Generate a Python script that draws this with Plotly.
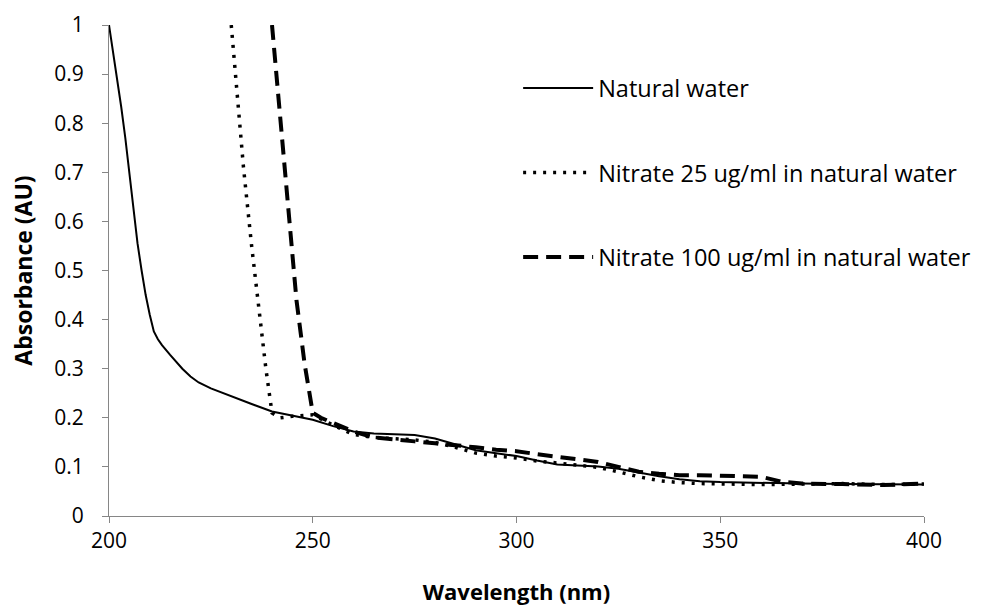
import plotly.graph_objects as go

# Natural water
wl_nat = [200, 201, 202, 203, 204, 205, 206, 207, 208, 209, 210, 210.5, 211, 212, 213, 215, 218,
          220, 222, 225, 228, 230, 235, 240, 245, 250, 255, 260, 265, 270, 275, 280, 285, 290,
          295, 300, 305, 310, 315, 320, 325, 330, 335, 340, 345, 350, 360, 370, 380, 390, 400]
abs_nat = [1.0, 0.945, 0.89, 0.833, 0.77, 0.70, 0.625, 0.555, 0.50, 0.45, 0.41, 0.392, 0.376,
           0.36, 0.348, 0.328, 0.30, 0.284, 0.272, 0.26, 0.25, 0.244, 0.228, 0.213, 0.205, 0.196,
           0.183, 0.172, 0.168, 0.167, 0.165, 0.158, 0.146, 0.134, 0.128, 0.122, 0.113, 0.105,
           0.103, 0.101, 0.096, 0.088, 0.081, 0.075, 0.071, 0.069, 0.067, 0.066, 0.065, 0.065,
           0.064]

# Nitrate 25 ug/ml in natural water
wl_n25 = [230, 231.5, 233, 235, 237, 238.5, 240, 242, 245, 250, 255, 260, 265, 270, 275, 280,
          285, 290, 295, 300, 305, 310, 315, 320, 325, 330, 335, 340, 345, 350, 360, 370, 380,
          390, 400]
abs_n25 = [1.0, 0.85, 0.71, 0.55, 0.40, 0.30, 0.21, 0.200, 0.203, 0.206, 0.185, 0.166, 0.160,
           0.158, 0.155, 0.150, 0.140, 0.128, 0.122, 0.118, 0.112, 0.108, 0.104, 0.099, 0.090,
           0.080, 0.072, 0.068, 0.066, 0.065, 0.064, 0.065, 0.066, 0.064, 0.065]

# Nitrate 100 ug/ml in natural water
wl_n100 = [240, 241.5, 243, 244.5, 246, 248, 250, 252, 255, 260, 265, 270, 275, 280, 285, 290,
           295, 300, 305, 310, 315, 320, 325, 330, 335, 340, 345, 350, 355, 360, 365, 370, 380,
           390, 400]
abs_n100 = [1.0, 0.86, 0.72, 0.58, 0.44, 0.31, 0.21, 0.200, 0.190, 0.172, 0.160, 0.155, 0.152,
            0.148, 0.145, 0.140, 0.135, 0.132, 0.126, 0.120, 0.114, 0.110, 0.100, 0.090, 0.086,
            0.083, 0.083, 0.082, 0.082, 0.080, 0.070, 0.066, 0.065, 0.063, 0.066]

names = ["Natural water", "Nitrate 25 ug/ml in natural water", "Nitrate 100 ug/ml in natural water"]

FONT = "Open Sans"
fig = go.Figure()
fig.add_trace(go.Scatter(x=wl_nat, y=abs_nat, mode="lines", name=names[0], legendgroup="a",
                         line=dict(color="black", width=2)))
fig.add_trace(go.Scatter(x=wl_n25, y=abs_n25, mode="lines", name=names[1], legendgroup="b",
                         line=dict(color="black", width=3.5, dash="3px,7px")))
fig.add_trace(go.Scatter(x=wl_n100, y=abs_n100, mode="lines", name=names[2], legendgroup="c",
                         line=dict(color="black", width=4, dash="15px,8px")))

axis_common = dict(showgrid=False, zeroline=False, showline=True, linecolor="#868686",
                   linewidth=1, ticks="outside", tickcolor="#868686", ticklen=6,
                   tickfont=dict(family=FONT, size=21, color="black"))
fig.update_xaxes(range=[200, 400], tick0=200, dtick=50, **axis_common,
                 title=dict(text="<b>Wavelength (nm)</b>", font=dict(family=FONT, size=22, color="black"),
                            standoff=32))
fig.update_yaxes(range=[0, 1], tick0=0, dtick=0.1, **axis_common, ticklabelstandoff=14,
                 title=dict(text="<b>Absorbance (AU)</b>", font=dict(family=FONT, size=23, color="black"),
                            standoff=15))

fig.update_layout(
    width=981, height=606,
    margin=dict(l=109, r=57, t=25, b=90, autoexpand=False),
    plot_bgcolor="white", paper_bgcolor="white",
    font=dict(family=FONT, color="black"),
    legend=dict(x=0.502, y=0.916, xanchor="left", yanchor="top", bgcolor="rgba(0,0,0,0)",
                font=dict(family=FONT, size=23.5, color="black"), itemwidth=70,
                tracegroupgap=51),
)

fig.write_html("out.html")
